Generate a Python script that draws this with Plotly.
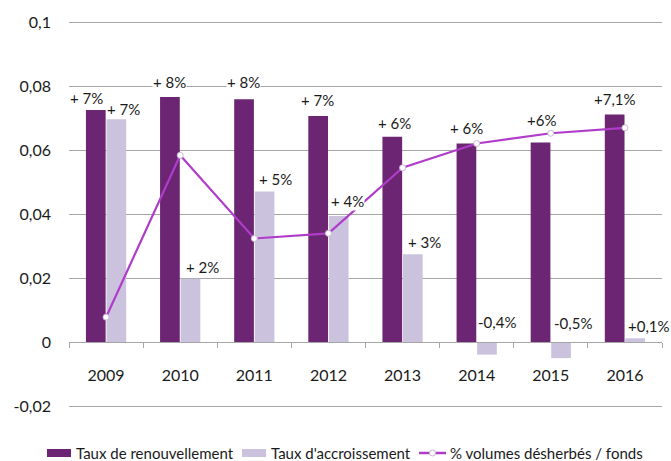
import plotly.graph_objects as go

years = ["2009", "2010", "2011", "2012", "2013", "2014", "2015", "2016"]
renouvellement = [0.0727, 0.0767, 0.0760, 0.0708, 0.0643, 0.0622, 0.0625, 0.0713]
accroissement = [0.0698, 0.0199, 0.0472, 0.0395, 0.0276, -0.0038, -0.0049, 0.0013]
desherbes = [0.0079, 0.0585, 0.0325, 0.0341, 0.0546, 0.0622, 0.0654, 0.0671]

labels_renouv = ["+ 7%", "+ 8%", "+ 8%", "+ 7%", "+ 6%", "+ 6%", "+6%", "+7,1%"]
labels_accr = ["+ 7%", "+ 2%", "+ 5%", "+ 4%", "+ 3%", "-0,4%", "-0,5%", "+0,1%"]
series_names = ["Taux de renouvellement", "Taux d'accroissement", "% volumes désherbés / fonds"]

y_tickvals = [-0.02, 0, 0.02, 0.04, 0.06, 0.08, 0.1]
y_ticktext = ["-0,02", "0", "0,02", "0,04", "0,06", "0,08", "0,1"]

# label offsets (pixels) relative to category centre / bar top
dx_renouv = [-20, -11, -11, -11, -8, -10, -9, -10]
dy_renouv = [12, 15, 17, 16, 14, 16, 23, 15]
dx_accr = [17, 22, 21, 19, 22, 20, 22, 24]
dy_accr = [10, 12, 12, 15, 12, 20, 19, 12]

DARK = "#6B2573"
LIGHT = "#CBC3DD"
LINE = "#B03CCA"
GRID = "#A6A6A6"
TXT = "#1a1a1a"
FONT = "Lato"

W, H = 671, 461
ML, MR, MT, MB = 69, 9, 21, 53
PW, PH = W - ML - MR, H - MT - MB
Y_RANGE = [-0.0205, 0.1005]


def px_x(px):
    return (px - ML) / PW


def px_y(py):
    return (H - MB - py) / PH


fig = go.Figure()
fig.add_trace(go.Bar(x=years, y=renouvellement, name=series_names[0],
                     marker=dict(color=DARK, line=dict(width=0))))
fig.add_trace(go.Bar(x=years, y=accroissement, name=series_names[1],
                     marker=dict(color=LIGHT, line=dict(width=0))))
fig.add_trace(go.Scatter(x=years, y=desherbes, name=series_names[2],
                         mode="lines+markers",
                         line=dict(color=LINE, width=2.2),
                         marker=dict(size=6, color="white",
                                     line=dict(color="#C9B8D6", width=1))))

annotations = []
for i, yr in enumerate(years):
    annotations.append(dict(x=i, y=max(renouvellement[i], 0), xref="x", yref="y",
                            text=labels_renouv[i], showarrow=False,
                            xshift=dx_renouv[i], yshift=dy_renouv[i],
                            yanchor="middle", xanchor="center",
                            bgcolor="white", borderpad=0,
                            font=dict(family=FONT, size=15, color=TXT)))
    annotations.append(dict(x=i, y=max(accroissement[i], 0), xref="x", yref="y",
                            text=labels_accr[i], showarrow=False,
                            xshift=dx_accr[i], yshift=dy_accr[i],
                            yanchor="middle", xanchor="center",
                            bgcolor="white", borderpad=0,
                            font=dict(family=FONT, size=15, color=TXT)))

# custom legend (pixel layout)
LEG_Y = 453
leg_text_x = [74, 269, 448]
shapes = [
    dict(type="rect", xref="paper", yref="paper", x0=px_x(47), x1=px_x(71),
         y0=px_y(457), y1=px_y(449), fillcolor=DARK, line=dict(width=0)),
    dict(type="rect", xref="paper", yref="paper", x0=px_x(242), x1=px_x(266),
         y0=px_y(457), y1=px_y(449), fillcolor=LIGHT, line=dict(width=0)),
    dict(type="line", xref="paper", yref="paper", x0=px_x(419), x1=px_x(446),
         y0=px_y(LEG_Y), y1=px_y(LEG_Y), line=dict(color=LINE, width=2.5)),
    dict(type="circle", xref="paper", yref="paper", x0=px_x(429.5), x1=px_x(435.5),
         y0=px_y(LEG_Y + 3), y1=px_y(LEG_Y - 3), fillcolor="white",
         line=dict(color="#C9B8D6", width=1)),
]
for name, tx in zip(series_names, leg_text_x):
    annotations.append(dict(x=px_x(tx), y=px_y(LEG_Y), xref="paper", yref="paper",
                            text=name, showarrow=False, xanchor="left", yanchor="middle",
                            font=dict(family=FONT, size=15, color=TXT)))

fig.update_layout(
    width=W, height=H,
    margin=dict(l=ML, r=MR, t=MT, b=MB),
    paper_bgcolor="white", plot_bgcolor="white",
    font=dict(family=FONT, size=15, color=TXT),
    barmode="group", bargap=0.446, bargroupgap=0.04,
    showlegend=False,
    annotations=annotations,
    shapes=shapes,
)
fig.update_yaxes(range=Y_RANGE, tickvals=y_tickvals, ticktext=y_ticktext,
                 showgrid=True, gridcolor=GRID, gridwidth=1, zeroline=False,
                 showline=False, ticks="", ticklabelstandoff=17, automargin=False,
                 tickfont=dict(family=FONT, size=16, color=TXT))
fig.update_xaxes(type="category", anchor="free",
                 position=(0 - Y_RANGE[0]) / (Y_RANGE[1] - Y_RANGE[0]),
                 range=[-0.5, len(years) - 0.5], automargin=False,
                 showline=True, linecolor=GRID, linewidth=1,
                 ticks="outside", tickson="boundaries", ticklen=5, tickcolor=GRID,
                 ticklabelstandoff=18, showgrid=False,
                 tickfont=dict(family=FONT, size=16, color=TXT))

fig.write_html("out.html", config={"displayModeBar": False},
               post_script="document.body.style.margin='0';document.body.style.overflow='hidden';")
